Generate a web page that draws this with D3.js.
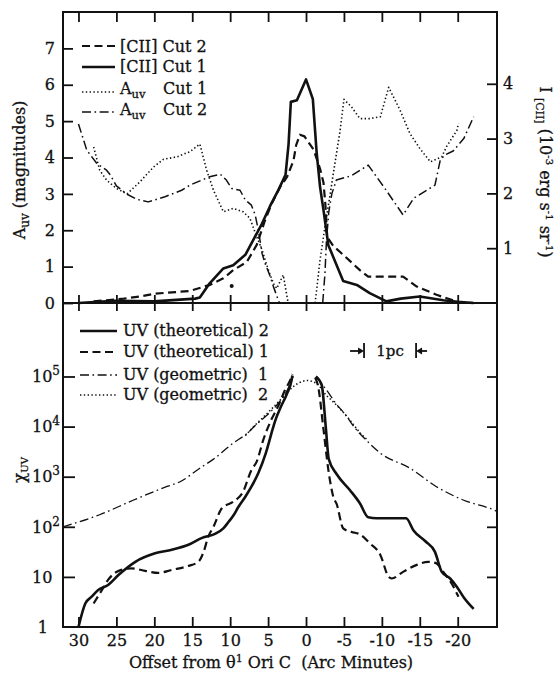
<!DOCTYPE html>
<html><head><meta charset="utf-8">
<script src="https://cdn.jsdelivr.net/npm/d3@7"></script>
<style>
body{margin:0;background:#fff;}
svg text{font-family:"DejaVu Serif",serif;fill:#111;stroke:#111;stroke-width:0.3px;}
.tick line{stroke:#111;stroke-width:1.8;}
.lbl text{font-size:16px;}
</style></head><body>
<svg id="c" width="556" height="673"></svg>
<script>
// ---- tick values ----
const offsetTicks = [30, 25, 20, 15, 10, 5, 0, -5, -10, -15, -20];
const auvTicks = [0, 1, 2, 3, 4, 5, 6, 7];
const ciiTicks = [1, 2, 3, 4];
const chiTicks = [1, 10, 100, 1e3, 1e4, 1e5];

// ---- upper panel: [CII] intensity (1e-3 erg s^-1 sr^-1) vs offset (arcmin) ----
const ciiCut1 = [[30,0],[25.2,0.04],[20,0.03],[14.6,0.08],[14,0.1],[12.7,0.36],[10.9,0.63],[9.6,0.69],[8.0,0.88],[6.95,1.15],[5.8,1.45],[4.7,1.78],[3.65,2.06],[2.7,2.34],[2.3,2.9],[2.0,3.67],[1.2,3.7],[0,4.08],[-0.9,3.72],[-1.4,2.75],[-1.85,2.12],[-2.3,1.7],[-2.95,1.05],[-3.2,0.97],[-4.9,0.4],[-6.7,0.33],[-8.4,0.18],[-10.6,0.03],[-12.5,0.08],[-15,0.12],[-18.1,0.05],[-20,0.02],[-22.1,0]];
const ciiCut2 = [[28,0.03],[24,0.08],[21.9,0.12],[19.9,0.17],[15.3,0.22],[12.7,0.33],[10.9,0.45],[9.6,0.6],[7.8,0.75],[6.5,1.06],[5.4,1.51],[4.5,1.82],[3.4,2.12],[2.5,2.3],[1.65,2.6],[1.3,2.88],[0.8,3.07],[0.2,3.04],[-1.0,2.8],[-1.85,2.45],[-2.3,2.2],[-2.55,1.8],[-2.8,1.2],[-3.6,1.04],[-4.9,0.88],[-7.1,0.6],[-8.2,0.48],[-12.8,0.48],[-14.6,0.3],[-17.2,0.15],[-20,0.02],[-22.1,0]];
// ---- upper panel: A_uv (magnitudes) ----
const auvCut1 = [[28,4.29],[27.2,3.65],[26.3,3.38],[25,3.15],[23.6,3.0],[21.9,3.33],[20.1,3.74],[18.8,3.95],[17,4.02],[15.3,4.16],[14,4.37],[13.1,3.65],[12.2,3.1],[10.9,2.51],[9.6,2.6],[8.3,2.51],[7.4,2.33],[6.5,1.82],[5.8,1.46],[4.97,0.91],[4.3,0.54],[3.86,0.4],[3.0,0.77],[2.5,0.17],[2.35,0],[0.5,null],[-1.2,0],[-1.85,1.18],[-2.5,2.1],[-3.2,3.01],[-3.6,3.56],[-4.5,4.75],[-5.0,5.6],[-6.0,5.39],[-7.1,5.07],[-8.4,5.07],[-9.8,5.12],[-10.9,5.93],[-12.4,5.3],[-13.7,4.66],[-15.0,4.25],[-16.4,3.88],[-17.9,4.02],[-18.5,4.29],[-19.9,4.75],[-20.1,4.94]];
const auvCut2 = [[30,4.92],[28.9,4.2],[27.6,3.84],[26.3,3.65],[25.8,3.52],[25.0,3.22],[23.6,2.99],[22.3,2.85],[20.8,2.78],[18.6,2.92],[16.4,3.1],[15.3,3.24],[12.7,3.47],[11.3,3.54],[10.5,3.38],[9.8,3.15],[8.7,3.1],[8.0,2.83],[7.2,2.69],[6.7,2.42],[6.25,1.96],[6.0,1.64],[5.8,1.37],[5.4,1.09],[4.7,0.72],[4.3,0.45],[3.65,0.08],[3.5,0],[0,null],[-2.2,0],[-2.5,0.82],[-2.7,1.73],[-3.0,2.5],[-3.4,3.0],[-4.0,3.38],[-6.0,3.5],[-8.2,3.79],[-10.4,3.15],[-12.8,2.42],[-14.2,2.88],[-17.0,3.24],[-17.7,3.93],[-18.3,4.07],[-19.4,4.18],[-20.8,4.52],[-22.1,5.12]];
const auvPoint = [[9.8,0.47]];

// ---- lower panel: chi_uv ----
const uvTheo2 = [[30,1],[29.1,2.95],[28.3,3.98],[27.4,5.5],[26.1,6.9],[24.7,11],[22.5,20],[19.9,29.5],[17.7,34.7],[15.5,43.7],[13.7,60],[12.0,72],[10.9,93],[10.2,126],[9.6,166],[8.9,251],[8.0,398],[7.2,631],[6.3,1170],[5.3,2950],[4.4,8900],[4.1,12600],[3.3,25100],[2.5,45700],[1.9,85100],[1.8,105000],[0.3,null],[-1.3,100000],[-2.07,67600],[-2.6,10000],[-3.0,2240],[-4.05,1120],[-5.8,537],[-7.1,295],[-8.2,155],[-9.3,148],[-13.2,148],[-14.2,83],[-15.7,52],[-17.0,31.6],[-17.9,12.6],[-19.0,9.3],[-19.9,6.3],[-20.9,3.7],[-22.1,2.3]];
const uvTheo1 = [[28,2.95],[26.9,5.5],[26.1,8.7],[24.7,13.2],[23.0,14.8],[21.2,13.2],[19.5,12],[17.7,13.8],[15.5,16.6],[14.2,20],[13.5,31.6],[12.9,63],[12.2,100],[11.1,234],[9.6,316],[8.3,500],[7.2,1350],[6.5,2000],[5.6,5620],[4.6,13500],[3.7,25100],[2.77,53700],[1.9,100000],[1.8,112000],[0.3,null],[-1.2,95500],[-1.6,63100],[-2.3,8900],[-2.95,1350],[-3.6,398],[-4.05,282],[-4.9,93],[-6.0,79],[-7.1,71],[-8.4,47],[-9.8,27.5],[-10.9,10],[-11.3,9.3],[-12.8,12.6],[-14.6,17.4],[-16.1,20],[-17.2,18.6],[-18.1,12.6],[-19.2,7.4],[-20.1,4]];
const uvGeom1 = [[32.04,100],[27.2,174],[22.8,339],[18.4,631],[16.6,794],[14,1480],[12.2,2240],[9.6,4680],[7.8,7240],[6.5,11200],[5.2,16600],[3.86,26900],[2.5,52500],[1.65,100000],[0.2,null],[-1.4,100000],[-1.85,79400],[-2.7,53700],[-4,28200],[-5.4,15800],[-6.2,10500],[-8,5250],[-9.8,2950],[-13.7,1480],[-17.2,631],[-20.8,339],[-24.7,219],[-25.18,204]];
const uvGeom2 = [[8,6600],[6.9,10000],[5.2,17800],[3.4,33900],[1.65,63100],[0.5,79400],[-0.1,83200],[-1.4,72400],[-2.7,41700],[-3.2,35500],[-5.4,15800],[-6.2,11200],[-7.1,7590],[-8,5620]];

// scale bar: 1 pc in arcminutes, starting offset
const pcStart = -7.65, pcArcmin = 6.86;

// ---- layout ----
const svg = d3.select("#c");
const X0 = 63, X1 = 497, YT = 12, YM = 303, YB = 627;
const ink = "#111";
const x = d3.scaleLinear().domain([32.04, -25.18]).range([X0, X1]);
const yA = d3.scaleLinear().domain([0, 8]).range([YM, YT]);
const yI = d3.scaleLinear().domain([0, 5.31]).range([YM, YT]);
const yChi = d3.scaleLog().domain([1, 2.93e6]).range([YB, YM]);

const styles = {
  solid:   {w: 2.6, dash: null},
  dashed:  {w: 2.2, dash: "8,4.5"},
  dotted:  {w: 1.6, dash: "1.4,2.4"},
  dashdot: {w: 1.5, dash: "9,3.5,1.6,3.5"}
};
function styled(sel, s) {
  sel.attr("fill", "none").attr("stroke", ink).attr("stroke-width", styles[s].w)
     .attr("stroke-linejoin", "round");
  if (styles[s].dash) sel.attr("stroke-dasharray", styles[s].dash);
  return sel;
}

// ---- axes ----
const fmt = d => String(d);
function clean(g) { g.select(".domain").remove(); g.attr("font-family", null).attr("font-size", null); }
svg.append("g").attr("transform", `translate(0,${YT})`)
  .call(d3.axisTop(x).tickValues(offsetTicks).tickSize(-10).tickFormat("")).call(clean);
svg.append("g").attr("transform", `translate(0,${YM})`)
  .call(d3.axisBottom(x).tickValues(offsetTicks).tickSize(8).tickFormat("")).call(clean);
svg.append("g").attr("transform", `translate(0,${YM})`)
  .call(d3.axisBottom(x).tickValues(offsetTicks).tickSize(-8).tickFormat("")).call(clean);
svg.append("g").attr("class", "lbl").attr("transform", `translate(0,${YB})`)
  .call(d3.axisBottom(x).tickValues(offsetTicks).tickSize(-10).tickPadding(8).tickFormat(fmt)).call(clean);
svg.append("g").attr("class", "lbl").attr("transform", `translate(${X0},0)`)
  .call(d3.axisLeft(yA).tickValues(auvTicks).tickSize(-10).tickPadding(8).tickFormat(fmt)).call(clean);
svg.append("g").attr("class", "lbl").attr("transform", `translate(${X1},0)`)
  .call(d3.axisRight(yI).tickValues(ciiTicks).tickSize(-10).tickPadding(6).tickFormat(fmt)).call(clean);
svg.append("g").attr("transform", `translate(${X0},0)`)
  .call(d3.axisLeft(yChi).tickValues(chiTicks.slice(1)).tickSize(-12).tickFormat("")).call(clean);
svg.append("g").attr("transform", `translate(${X1},0)`)
  .call(d3.axisRight(yChi).tickValues(chiTicks.slice(1)).tickSize(-10).tickFormat("")).call(clean);

// log tick labels with superscript exponents
const chiLbl = svg.append("g").attr("font-size", 16);
chiTicks.forEach(v => {
  const e = Math.round(Math.log10(v));
  const yy = yChi(v) + 5.8;
  if (e === 0) {
    chiLbl.append("text").attr("x", 48).attr("y", yy).attr("text-anchor", "end").text("1");
  } else {
    const t = chiLbl.append("text").attr("x", 32).attr("y", yy).text("10");
    if (e > 1) t.append("tspan").attr("dy", -7).attr("font-size", 12).text(e);
  }
});

// frame and panel divider
svg.append("rect").attr("x", X0).attr("y", YT).attr("width", X1 - X0).attr("height", YB - YT)
  .attr("fill", "none").attr("stroke", ink).attr("stroke-width", 2);
svg.append("line").attr("x1", X0).attr("x2", X1).attr("y1", YM).attr("y2", YM)
  .attr("stroke", ink).attr("stroke-width", 2);

// ---- upper panel curves ----
const lineI = d3.line().defined(d => d[1] !== null).x(d => x(d[0])).y(d => yI(d[1]));
const lineA = d3.line().defined(d => d[1] !== null).x(d => x(d[0])).y(d => yA(d[1]));
styled(svg.append("path").attr("d", lineA(auvCut1)), "dotted");
styled(svg.append("path").attr("d", lineA(auvCut2)), "dashdot");
styled(svg.append("path").attr("d", lineI(ciiCut2)), "dashed");
styled(svg.append("path").attr("d", lineI(ciiCut1)), "solid");
svg.selectAll(".pt").data(auvPoint).join("circle").attr("class", "pt")
  .attr("cx", d => x(d[0])).attr("cy", d => yA(d[1])).attr("r", 2).attr("fill", ink);

// ---- lower panel curves ----
const lineChi = d3.line().defined(d => d[1] !== null).x(d => x(d[0])).y(d => yChi(d[1]))
  .curve(d3.curveMonotoneX);
styled(svg.append("path").attr("d", lineChi(uvGeom1)), "dashdot").attr("stroke-width", 1.3);
styled(svg.append("path").attr("d", lineChi(uvGeom2)), "dotted");
styled(svg.append("path").attr("d", lineChi(uvTheo1)), "dashed");
styled(svg.append("path").attr("d", lineChi(uvTheo2)), "solid");

// ---- legends ----
function legend(items, x0, x1, tx, fs) {
  const g = svg.append("g").attr("font-size", fs);
  items.forEach(it => {
    styled(g.append("line").attr("x1", x0).attr("x2", x1).attr("y1", it.ly).attr("y2", it.ly), it.s);
    const t = g.append("text").attr("x", tx).attr("y", it.ty);
    it.parts.forEach(p => {
      const ts = t.append("tspan").text(p.t);
      if (p.sub) ts.attr("font-size", fs * 0.72).attr("dy", 4);
      if (p.after) ts.attr("dy", -4).attr("x", p.at);
    });
  });
}
legend([
  {s: "dashed",  ly: 46,  ty: 52,  parts: [{t: "[CII] Cut 2"}]},
  {s: "solid",   ly: 67,  ty: 72,  parts: [{t: "[CII] Cut 1"}]},
  {s: "dotted",  ly: 92,  ty: 94,  parts: [{t: "A"}, {t: "uv", sub: true}, {t: "Cut 1", after: true, at: 163}]},
  {s: "dashdot", ly: 112, ty: 115, parts: [{t: "A"}, {t: "uv", sub: true}, {t: "Cut 2", after: true, at: 163}]}
], 82, 115, 120, 16);
legend([
  {s: "solid",   ly: 331, ty: 336, parts: [{t: "UV (theoretical) 2"}]},
  {s: "dashed",  ly: 352, ty: 357, parts: [{t: "UV (theoretical) 1"}]},
  {s: "dashdot", ly: 375, ty: 380, parts: [{t: "UV (geometric)\u00a0 1"}]},
  {s: "dotted",  ly: 395, ty: 400, parts: [{t: "UV (geometric)\u00a0 2"}]}
], 80, 117, 123, 16);

// ---- 1 pc scale bar ----
const pb = svg.append("g");
const pa = x(pcStart), pz = x(pcStart - pcArcmin), py = 351;
[pa, pz].forEach(px => pb.append("line").attr("x1", px).attr("x2", px).attr("y1", py - 8).attr("y2", py + 7)
  .attr("stroke", ink).attr("stroke-width", 1.8));
pb.append("line").attr("x1", pa - 14).attr("x2", pa - 4).attr("y1", py).attr("y2", py).attr("stroke", ink).attr("stroke-width", 1.8);
pb.append("path").attr("d", `M${pa},${py}l-6,-3.5v7z`).attr("fill", ink);
pb.append("line").attr("x1", pz + 4).attr("x2", pz + 11).attr("y1", py).attr("y2", py).attr("stroke", ink).attr("stroke-width", 1.8);
pb.append("path").attr("d", `M${pz},${py}l6,-3.5v7z`).attr("fill", ink);
pb.append("text").attr("x", (pa + pz) / 2).attr("y", py + 5).attr("text-anchor", "middle")
  .attr("font-size", 15).text("1pc");

// ---- axis titles ----
const tA = svg.append("text").attr("transform", "translate(25,170) rotate(-90)")
  .attr("text-anchor", "middle").attr("font-size", 16);
tA.append("tspan").text("A");
tA.append("tspan").attr("font-size", 12).attr("dy", 4).text("uv");
tA.append("tspan").attr("dy", -4).text(" (magnitudes)");

const tC = svg.append("text").attr("transform", "translate(25,470) rotate(-90)")
  .attr("text-anchor", "middle").attr("font-size", 17);
tC.append("tspan").text("\u03c7");
tC.append("tspan").attr("font-size", 10).attr("dy", 3).text("UV");

const tR = svg.append("text").attr("transform", "translate(540,172) rotate(90)")
  .attr("text-anchor", "middle").attr("font-size", 16);
tR.append("tspan").text("I ");
tR.append("tspan").attr("font-size", 11).attr("dy", 4).text("[CII]");
tR.append("tspan").attr("dy", -4).text(" (10");
tR.append("tspan").attr("font-size", 10).attr("dy", -6).text("-3");
tR.append("tspan").attr("dy", 6).text(" erg s");
tR.append("tspan").attr("font-size", 10).attr("dy", -6).text("-1");
tR.append("tspan").attr("dy", 6).text(" sr");
tR.append("tspan").attr("font-size", 10).attr("dy", -6).text("-1");
tR.append("tspan").attr("dy", 6).text(")");

const tX = svg.append("text").attr("x", 271).attr("y", 668).attr("text-anchor", "middle").attr("font-size", 16);
tX.append("tspan").text("Offset from \u03b8");
tX.append("tspan").attr("font-size", 11).attr("dy", -6).text("1");
tX.append("tspan").attr("dy", 6).text(" Ori C\u00a0 (Arc Minutes)");
</script>
</body></html>
